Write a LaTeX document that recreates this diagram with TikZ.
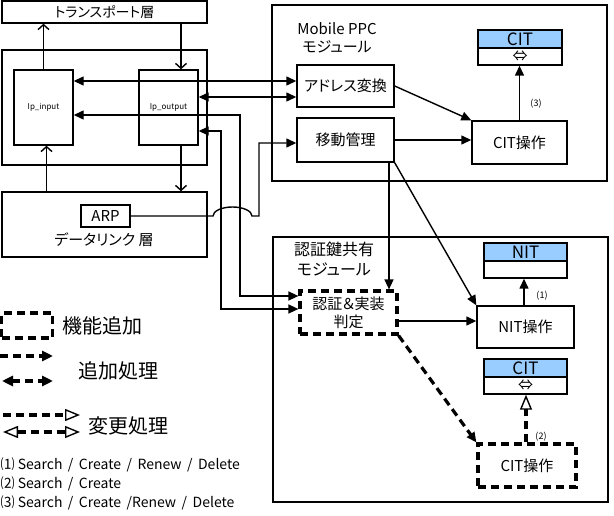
\documentclass[tikz,border=0pt]{standalone}
\usepackage{fontspec}
\setmainfont{Noto Sans CJK JP}[RawFeature=+palt]
\usetikzlibrary{arrows.meta,calc}
\definecolor{hdr}{RGB}{153,204,255}
\newcommand{\fs}[1]{\fontsize{#1}{#1}\selectfont}
\begin{document}
\begin{tikzpicture}[x=1pt,y=-1pt,line width=1.4pt,
  box/.style={draw,line width=1.4pt,inner sep=0pt,align=center,font=\fs{15}},
  dbox/.style={box,line width=3.2pt,dash pattern=on 8pt off 5pt},
  hcell/.style={draw,line width=1.4pt,fill=hdr,minimum width=83pt,minimum height=18pt,inner sep=0pt,font=\fs{17}},
  bcell/.style={draw,line width=1.4pt,fill=white,minimum width=83pt,minimum height=17pt,inner sep=0pt,font=\fs{15}},
  arr/.style={-{Triangle[length=10pt,width=9pt]}},
  both/.style={{Triangle[length=10pt,width=9pt]}-{Triangle[length=10pt,width=9pt]}},
  opena/.style={-{Straight Barb[length=5pt,width=11pt]}},
  dline/.style={line width=3.2pt,dash pattern=on 8pt off 5pt},
  hol/.style={-{Triangle[open,length=15pt,width=12pt,line width=1.4pt]}},
  holboth/.style={{Triangle[open,length=15pt,width=12pt,line width=1.4pt]}-{Triangle[open,length=15pt,width=12pt,line width=1.4pt]}},
  lbl/.style={inner sep=0pt,font=\fs{9}},
]
\useasboundingbox (0,0) rectangle (614,516);

% ---- left stack ----
\node[box,minimum width=205pt,minimum height=22pt,font=\fs{14}] (trans) at (104.5,12) {トランスポート層};
\node[box,minimum width=205pt,minimum height=115pt] (ipbox) at (104.5,107.5) {};
\node[box,minimum width=59pt,minimum height=75pt,font=\fs{8}] (ipin) at (43.5,107.5) {Ip\_input};
\node[box,minimum width=59pt,minimum height=75pt,font=\fs{8}] (ipout) at (168.5,107.5) {Ip\_output};
\node[box,minimum width=205pt,minimum height=65pt] (dl) at (104.5,224.5) {};
\node[box,minimum width=49pt,minimum height=22pt] (arp) at (105.5,216) {ARP};
\node[inner sep=0pt,font=\fs{15}] (dlt) at (104,240) {データリンク 層};

% ---- Mobile PPC module ----
\node[box,minimum width=335pt,minimum height=176pt] (mppc) at (439.5,93) {};
\node[inner sep=0pt,align=center,font=\fontsize{15}{18.5}\selectfont] (mppct) at (337,38) {Mobile PPC\\モジュール};
\node[box,minimum width=97pt,minimum height=42pt] (addr) at (345.5,86) {アドレス変換};
\node[box,minimum width=97pt,minimum height=44pt] (move) at (345.5,140) {移動管理};
\node[box,minimum width=95pt,minimum height=43pt] (citop1) at (519.5,142.5) {CIT操作};
\node[hcell,minimum width=84pt] (cit1h) at (520,39) {CIT};
\node[bcell,minimum width=84pt] (cit1b) at (520,56.5) {⇔};
\node[lbl] (l3) at (536,104) {(3)};

% ---- auth key sharing module ----
\node[box,minimum width=335pt,minimum height=265pt] (amod) at (440.5,369.5) {};
\node[inner sep=0pt,align=center,font=\fontsize{16}{20}\selectfont] (amodt) at (334,259) {認証鍵共有\\モジュール};
\node[dbox,minimum width=97pt,minimum height=43pt,font=\fontsize{15}{18}\selectfont] (auth) at (348.5,312.5) {認証＆実装\\判定};
\node[hcell] (nith) at (525.5,252) {NIT};
\node[bcell] (nitb) at (525.5,269.5) {};
\node[box,minimum width=97pt,minimum height=42pt] (nitop) at (525.5,327) {NIT操作};
\node[hcell] (cit2h) at (525.5,368) {CIT};
\node[bcell] (cit2b) at (525.5,385.5) {⇔};
\node[dbox,minimum width=98pt,minimum height=43pt] (citop2) at (527,465.5) {CIT操作};
\node[lbl] (l1) at (542,296) {(1)};
\node[lbl] (l2) at (541,437) {(2)};

% ---- helper coordinates ----
\coordinate (xo) at (181,0);
\coordinate (xi) at (46.5,0);
\coordinate (h1) at (0,81);
\coordinate (h2) at (0,97);
\coordinate (h3) at (0,115);
\coordinate (h4) at (0,131);
\coordinate (h5) at (0,296);
\coordinate (h6) at (0,309);
\coordinate (hm) at (0,143);
\coordinate (ha) at (0,321);
\coordinate (v3) at (240,0);
\coordinate (v4) at (221,0);
\coordinate (va) at (259,0);
\coordinate (vm) at (389,0);
\coordinate (vn) at (524,0);
\coordinate (vc) at (526,0);
\coordinate (bl) at (213,216);

% ---- left stack connectors ----
\draw[opena] (ipin.north) -- (ipin.north |- trans.south);
\draw[opena] (trans.south -| xo) -- (ipout.north -| xo);
\draw[opena] (ipout.south -| xo) -- (dl.north -| xo);
\draw[opena] (dl.north -| xi) -- (ipin.south -| xi);

% ---- cross connectors ----
\draw[both] (ipin.east |- h1) -- (addr.west |- h1);
\draw[both] (ipout.east |- h2) -- (addr.west |- h2);
\draw[both] (ipin.east |- h3) -| (v3 |- h5) -- (auth.west |- h5);
\draw[both] (ipout.east |- h4) -| (v4 |- h6) -- (auth.west |- h6);
\draw[arr] (arp.east) -- (bl) arc[start angle=180,end angle=360,x radius=19.5,y radius=9] -- (va |- arp.east) |- (move.west |- hm);

% ---- Mobile PPC connectors ----
\draw[arr] (addr.east) -- (citop1.north west);
\draw[arr] (move.east) -- (citop1.west |- move.east);
\draw[arr] (citop1.north) -- (citop1.north |- cit1b.south);
\draw[arr] (move.south -| vm) -- (auth.north -| vm);
\draw[arr] (move.south east) -- (nitop.north west);

% ---- auth module connectors ----
\draw[arr] (auth.east |- ha) -- (nitop.west |- ha);
\draw[arr] (nitop.north -| vn) -- (nitb.south -| vn);
\draw[dline,arr] (auth.south east) -- (citop2.north west);
\draw[dline,hol] (citop2.north -| vc) -- (cit2b.south -| vc);

% ---- legend ----
\node[dbox,minimum width=51pt,minimum height=25pt] (lgbox) at (27,325.5) {};
\node[anchor=west,inner sep=0pt,font=\fs{20}] (lgt1) at (62,326) {機能追加};
\coordinate (a1l) at (0,356);   \coordinate (a1r) at (53,356);
\coordinate (a2l) at (2,381);   \coordinate (a2r) at (53,381);
\draw[dline,-{Triangle[length=11pt,width=10pt]}] (a1l) -- (a1r);
\draw[dline,{Triangle[length=11pt,width=10pt]}-{Triangle[length=11pt,width=10pt]}] (a2l) -- (a2r);
\node[anchor=west,inner sep=0pt,font=\fs{20}] (lgt2) at (78,371) {追加処理};
\coordinate (a3l) at (3,415);   \coordinate (a3r) at (80,415);
\coordinate (a4l) at (3,432);   \coordinate (a4r) at (80,432);
\draw[dline,hol] (a3l) -- (a3r);
\draw[dline,holboth] (a4l) -- (a4r);
\node[anchor=west,inner sep=0pt,font=\fs{20}] (lgt3) at (88,426) {変更処理};
\node[anchor=west,inner sep=0pt,font=\fs{14}] (n1) at (0,465) {⑴ Search \,/\, Create \,/\, Renew \,/\, Delete};
\node[anchor=west,inner sep=0pt,font=\fs{14}] (n2) at (0,484) {⑵ Search \,/\, Create};
\node[anchor=west,inner sep=0pt,font=\fs{14}] (n3) at (0,503) {⑶ Search \,/\, Create \,/Renew \,/\, Delete};
\end{tikzpicture}
\end{document}
